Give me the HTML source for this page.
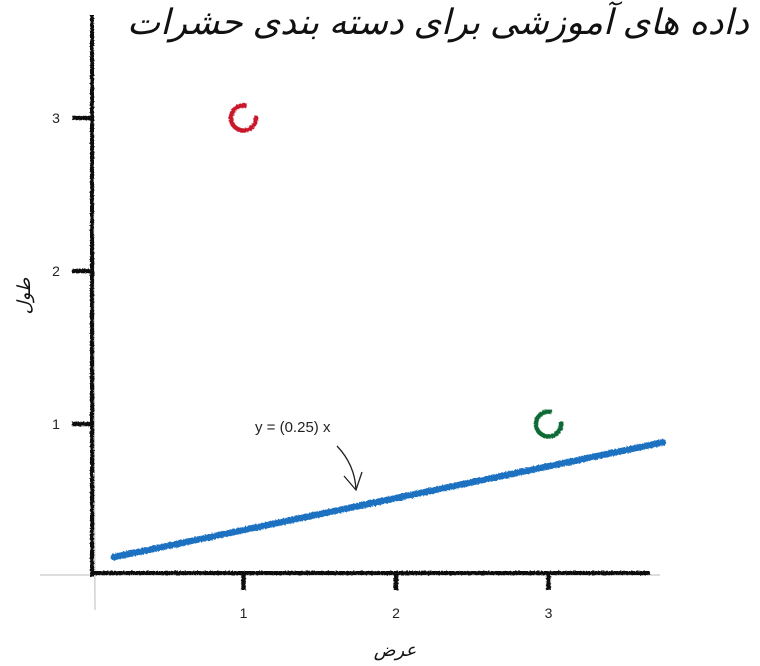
<!DOCTYPE html>
<html><head><meta charset="utf-8">
<style>
html,body{margin:0;padding:0;background:#fff;}
svg{display:block;font-family:"Liberation Sans","DejaVu Sans",sans-serif;}
</style></head>
<body>
<svg id="chart" width="760" height="666" viewBox="0 0 760 666" xmlns="http://www.w3.org/2000/svg">
<defs>
<filter id="rough" filterUnits="userSpaceOnUse" x="0" y="0" width="760" height="666"><feTurbulence type="fractalNoise" baseFrequency="0.6" numOctaves="2" result="n"/><feDisplacementMap in="SourceGraphic" in2="n" scale="2.5"/></filter>
</defs>
<g id="axes"></g>
<g id="marks"></g>
<text x="438" y="34" text-anchor="middle" font-size="35" font-style="italic" fill="#111" textLength="622" lengthAdjust="spacingAndGlyphs">داده های آموزشی برای دسته بندی حشرات</text>
<text transform="translate(30,296) rotate(-90)" text-anchor="middle" font-size="18" font-style="italic" fill="#111">طول</text>
<text x="395" y="656" text-anchor="middle" font-size="18" font-style="italic" fill="#111">عرض</text>
<text x="255" y="432" font-size="15" fill="#222">y = (0.25) x</text>
<path d="M337,446 Q355,465 356,490 M344,476 L356,490 L362,472" fill="none" stroke="#222" stroke-width="1.3"/>
</svg>
<script>
const xTicks=[1,2,3];
const yTicks=[1,2,3];
const lineX=[0.15,3.75];
const lineY=[0.13,0.88];
const redPoint=[1,3];
const greenPoint=[3,1];

const X0=91, XS=152.5, Y0=577, YS=153;
function sx(v){return X0+v*XS;}
function sy(v){return Y0-v*YS;}
const NS="http://www.w3.org/2000/svg";
const axes=document.getElementById('axes');
const marks=document.getElementById('marks');
function mk(tag,attrs,parent){const e=document.createElementNS(NS,tag);for(const k in attrs)e.setAttribute(k,attrs[k]);parent.appendChild(e);return e;}

let e;
e=mk('line',{x1:40,y1:575,x2:660,y2:575,stroke:'#bbb','stroke-width':1},axes);


e=mk('line',{x1:93,y1:15,x2:95,y2:610,stroke:'#bbb','stroke-width':1},axes);


e=mk('line',{x1:92,y1:15,x2:92,y2:577,stroke:'#111','stroke-width':4,filter:'url(#rough)'},axes);


e=mk('line',{x1:92,y1:573,x2:650,y2:573,stroke:'#111','stroke-width':4,filter:'url(#rough)'},axes);



xTicks.forEach(t=>{
  let l=mk('line',{x1:sx(t),y1:573,x2:sx(t),y2:590,stroke:'#111','stroke-width':4.5,filter:'url(#rough)'},axes);
  
  
  let tx=mk('text',{x:sx(t),y:618,'text-anchor':'middle','font-size':14,fill:'#222'},axes);
  tx.textContent=t;
  
  
});
yTicks.forEach(t=>{
  let l=mk('line',{x1:72,y1:sy(t),x2:91,y2:sy(t),stroke:'#111','stroke-width':4.5,filter:'url(#rough)'},axes);
  
  
  let tx=mk('text',{x:56,y:sy(t)+5,'text-anchor':'middle','font-size':14,fill:'#222'},axes);
  tx.textContent=t;
  
  
});

e=mk('line',{x1:sx(lineX[0]),y1:sy(lineY[0]),x2:sx(lineX[1]),y2:sy(lineY[1]),stroke:'#1f72c0','stroke-width':6.5,'stroke-linecap':'round',filter:'url(#rough)'},marks);



function ring(p,color,name){
  const c=mk('circle',{cx:sx(p[0]),cy:sy(p[1]),r:12.5,fill:'none',stroke:color,'stroke-width':4.5,'stroke-dasharray':'64 15','transform':`rotate(-10 ${sx(p[0])} ${sy(p[1])})`,filter:'url(#rough)'},marks);
  
  
}
ring(redPoint,'#c8192b','red-point');
ring(greenPoint,'#0a6b35','green-point');
</script>
</body></html>
